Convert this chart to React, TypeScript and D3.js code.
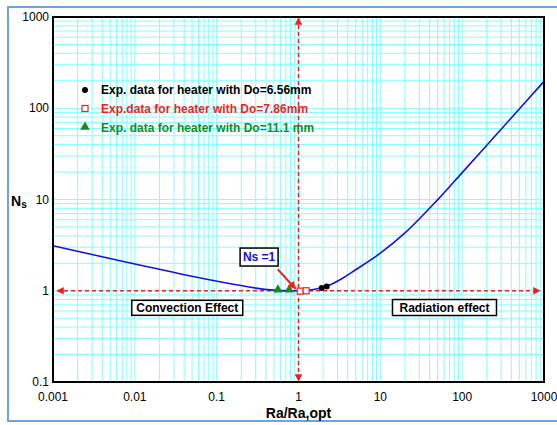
import React from 'react';
import * as d3 from 'd3';

const width = 557;
const height = 425;
const margin = {top: 17, right: 13, bottom: 43, left: 53};
const blue = '#1010f0';
const red = '#ff1a1a';
const green = '#1a8a1a';
const gridColor = '#80ffff';

// model curve
const curveRa = [0.001, 0.006, 0.039, 0.16, 0.41, 1.0, 1.38, 2.21, 3.21, 5, 10, 20, 50, 100, 200, 400, 1000];
const curveNs = [3.12, 2.17, 1.51, 1.18, 1.03, 1.0, 1.02, 1.12, 1.32, 1.7, 2.58, 4.3, 9.9, 19.7, 39.3, 78.6, 197];

// experimental points
const blackRa = [1.92, 2.21];
const blackNs = [1.07, 1.11];
const redRa = [1.05, 1.24];
const redNs = [0.99, 1.0];
const greenRa = [0.56, 0.77];
const greenNs = [1.0, 1.0];

const xTickValues = [0.001, 0.01, 0.1, 1, 10, 100, 1000];
const xTickLabels = ['0.001', '0.01', '0.1', '1', '10', '100', '1000'];
const yTickValues = [0.1, 1, 10, 100, 1000];
const yTickLabels = ['0.1', '1', '10', '100', '1000'];

const legendLabels = [
  'Exp. data for heater with Do=6.56mm',
  'Exp.data for heater with Do=7.86mm',
  'Exp. data for heater with Do=11.1 mm',
];

const xScale = d3.scaleLog().domain([0.001, 1000]).range([margin.left, width - margin.right]);
const yScale = d3.scaleLog().domain([0.1, 1000]).range([height - margin.bottom, margin.top]);

const font = 'Liberation Sans, Arial, sans-serif';

const line = d3.line<number>()
  .x((d, i) => xScale(curveRa[i]))
  .y(d => yScale(d))
  .curve(d3.curveCatmullRom.alpha(0.5));

const triangle = d3.symbol().type(d3.symbolTriangle).size(40)();

const Box = ({cx, cy, w, h, text, color, size}: any) => (
  <g>
    <rect x={cx - w / 2} y={cy - h / 2} width={w} height={h} fill='white' stroke='black' strokeWidth='1.5' />
    <text x={cx} y={cy + size * 0.36} textAnchor='middle' fontSize={size} fontWeight='bold' fill={color}>{text}</text>
  </g>
);

export default function App() {
  const [x0, x1] = xScale.range();
  const [y0, y1] = yScale.range();
  const one = {x: xScale(1), y: yScale(1)};

  return (
    <svg width={width} height={height} style={{position: 'absolute', left: 0, top: 0, fontFamily: font}}>
      <defs>
        <marker id='arr' viewBox='0 0 10 10' refX='9' refY='5' markerWidth='5' markerHeight='5' orient='auto-start-reverse'>
          <path d='M0,0 L10,5 L0,10 z' fill={red} />
        </marker>
        <marker id='arr2' viewBox='0 0 10 10' refX='9' refY='5' markerWidth='4' markerHeight='4' orient='auto'>
          <path d='M0,0 L10,5 L0,10 z' fill={red} />
        </marker>
      </defs>
      <rect x='0' y='0' width={width} height={height} fill='white' />
      <rect x='8' y='7' width={width + 10} height={height - 4 - 7} fill='none' stroke='#6fa3dc' strokeWidth='2' />

      {/* grid */}
      <g stroke={gridColor} strokeWidth='1'>
        {xScale.ticks().map((t, i) => (
          <line key={'gx' + i} x1={xScale(t)} x2={xScale(t)} y1={y1} y2={y0} />
        ))}
        {yScale.ticks().map((t, i) => (
          <line key={'gy' + i} x1={x0} x2={x1} y1={yScale(t)} y2={yScale(t)} />
        ))}
      </g>

      {/* dashed guides at Ns = 1 and Ra/Ra,opt = 1 */}
      <line x1={x0 + 4} x2={x1 - 4} y1={one.y} y2={one.y} stroke={red} strokeWidth='1.5'
        strokeDasharray='4,3' markerStart='url(#arr)' markerEnd='url(#arr)' />
      <line x1={one.x} x2={one.x} y1={y1 + 1} y2={y0 - 1} stroke={red} strokeWidth='1.5'
        strokeDasharray='4,3' markerStart='url(#arr)' markerEnd='url(#arr)' />

      <path d={line(curveNs) || ''} fill='none' stroke={blue} strokeWidth='1.6' />

      {/* points */}
      {greenRa.map((r, i) => (
        <path key={'g' + i} d={triangle} transform={`translate(${xScale(r)},${yScale(greenNs[i]) - 1})`} fill={green} />
      ))}
      {redRa.map((r, i) => (
        <rect key={'r' + i} x={xScale(r) - 3} y={yScale(redNs[i]) - 3} width='6' height='6' fill='white' stroke={red} strokeWidth='1.2' />
      ))}
      {blackRa.map((r, i) => (
        <circle key={'b' + i} cx={xScale(r)} cy={yScale(blackNs[i])} r='3' fill='black' />
      ))}

      {/* Ns = 1 callout */}
      <line x1={xScale(0.557)} y1={yScale(1.72)} x2={one.x - 3} y2={one.y - 2} stroke={red} strokeWidth='2' markerEnd='url(#arr2)' />
      <Box cx={xScale(0.33)} cy={yScale(2.34)} w={38} h={18} text='Ns =1' color={blue} size={12} />
      <Box cx={xScale(0.0437)} cy={yScale(0.65)} w={111} h={15} text='Convection Effect' color='black' size={12} />
      <Box cx={xScale(60.8)} cy={yScale(0.655)} w={104} h={16} text='Radiation effect' color='black' size={12} />

      {/* legend */}
      <g fontSize='12' fontWeight='bold'>
        <circle cx='85' cy='90' r='3' fill='black' />
        <text x='101' y='94' fill='black'>{legendLabels[0]}</text>
        <rect x='82' y='105.5' width='6' height='6' fill='white' stroke={red} strokeWidth='1.2' />
        <text x='101' y='112.5' fill={red}>{legendLabels[1]}</text>
        <path d={triangle} transform='translate(85,127)' fill={green} />
        <text x='101' y='131.5' fill={green}>{legendLabels[2]}</text>
      </g>

      {/* frame */}
      <rect x={x0} y={y1} width={x1 - x0} height={y0 - y1} fill='none' stroke='black' strokeWidth='2' />

      {/* axis labels */}
      <g fontSize='12' fill='black'>
        {xTickValues.map((t, i) => (
          <text key={'xt' + i} x={xScale(t)} y={y0 + 19} textAnchor='middle'>{xTickLabels[i]}</text>
        ))}
        {yTickValues.map((t, i) => (
          <text key={'yt' + i} x={x0 - 4} y={yScale(t) + 4} textAnchor='end'>{yTickLabels[i]}</text>
        ))}
      </g>
      <text x={(x0 + x1) / 2} y={y0 + 36} textAnchor='middle' fontSize='14' fontWeight='bold'>Ra/Ra,opt</text>
      <text x='11' y='206' fontSize='14' fontWeight='bold'>N<tspan fontSize='10' dy='2'>s</tspan></text>
    </svg>
  );
}
